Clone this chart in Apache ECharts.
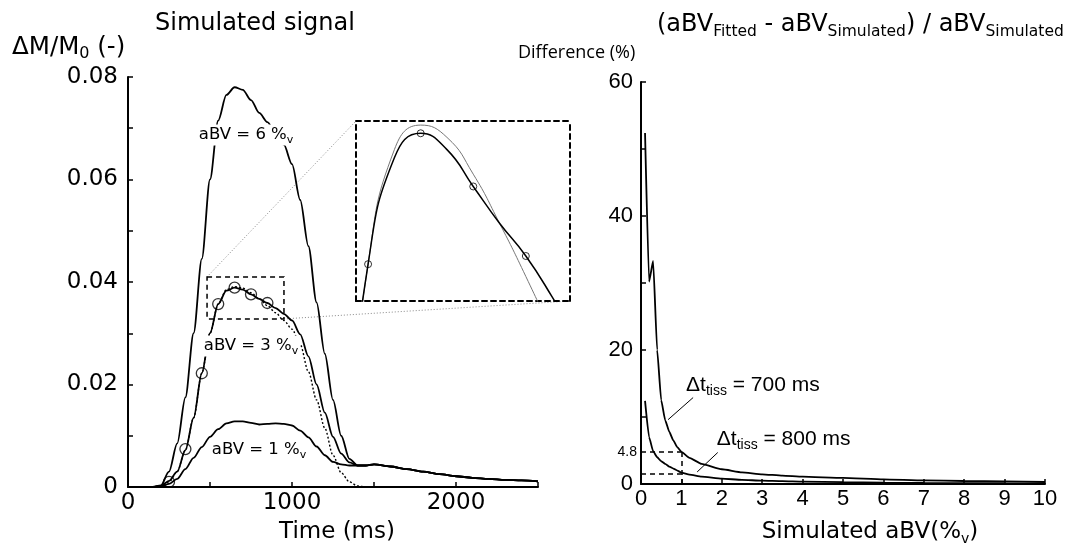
<!DOCTYPE html>
<html>
<head>
<meta charset="utf-8">
<script src="https://cdn.jsdelivr.net/npm/echarts@6/dist/echarts.min.js"></script>
<style>
  html, body { margin: 0; padding: 0; background: #fff; }
  #chart { width: 1075px; height: 551px; }
</style>
</head>
<body>
<div id="chart"></div>
<script>
// left panel: simulated signal (time in ms, dM/M0)
const timeMs = [0, 150, 200, 250, 300, 350, 400, 450, 500, 550, 600, 650, 700, 750, 800, 850, 900, 950, 1000,
  1050, 1100, 1150, 1200, 1250, 1300, 1350, 1400, 1450, 1500, 1600, 1700, 1800, 1900, 2000, 2100, 2200, 2300, 2400, 2500];
const signal6 = [0, 0, 0.0003, 0.003, 0.0085, 0.0175, 0.030, 0.0445, 0.060, 0.0715, 0.0765, 0.078, 0.0775, 0.0755, 0.073,
  0.0712, 0.069, 0.0668, 0.063, 0.056, 0.047, 0.036, 0.026, 0.017, 0.010, 0.0055, 0.0042, 0.0042, 0.0044, 0.004, 0.0035,
  0.003, 0.0025, 0.0021, 0.0018, 0.0016, 0.0014, 0.0013, 0.0011];
const signal3 = [0, 0, 0.0002, 0.0012, 0.003, 0.0072, 0.0135, 0.0222, 0.030, 0.0357, 0.0383, 0.0389, 0.0385, 0.0376, 0.0367,
  0.0359, 0.0349, 0.0338, 0.0325, 0.0298, 0.0255, 0.0200, 0.0145, 0.0098, 0.0065, 0.0048, 0.0042, 0.0042, 0.0044, 0.004,
  0.0035, 0.003, 0.0025, 0.0021, 0.0018, 0.0016, 0.0014, 0.0013, 0.0011];
const fit3 = [0, 0, 0.0002, 0.001, 0.003, 0.0072, 0.0135, 0.0222, 0.030, 0.0357, 0.0385, 0.0391, 0.0388, 0.0379, 0.0367,
  0.0354, 0.034, 0.0325, 0.0308, 0.0278, 0.0225, 0.017, 0.0115, 0.0062, 0.0028, 0.001, 0.0002, 0, 0];
const signal1 = [0, 0, 0.0001, 0.0006, 0.0016, 0.0035, 0.0057, 0.0078, 0.0098, 0.0113, 0.0124, 0.0128, 0.0128, 0.0125, 0.0122,
  0.0123, 0.0124, 0.0123, 0.012, 0.011, 0.0097, 0.0079, 0.0062, 0.0049, 0.0044, 0.0042, 0.0042, 0.0042, 0.0044, 0.004,
  0.0035, 0.003, 0.0025, 0.0021, 0.0018, 0.0016, 0.0014, 0.0013, 0.0011];
const sampleMs = [250, 350, 450, 550, 650, 750, 850];
const sampleSignal = [0.001, 0.0074, 0.0222, 0.0357, 0.0389, 0.0376, 0.0359];
const zoomBox = [482, 951, 0.0328, 0.041];      // t from, t to, signal from, signal to
const insetRange = [527, 934, 0.0348, 0.0392];  // what the inset shows

// right panel: difference (%) vs simulated aBV
const simAbv = [0.1, 0.2, 0.3, 0.4, 0.5, 0.6, 0.7, 0.8, 0.9, 1, 1.2, 1.5, 2, 2.5, 3, 3.5, 4, 5, 6, 7, 8, 9, 10];
const diff700 = [52.4, 30.2, 33.3, 20, 12.5, 9.5, 7.8, 6.5, 5.5, 4.8, 3.9, 3.0, 2.2, 1.75, 1.45, 1.25, 1.1, 0.9, 0.7, 0.55, 0.45, 0.38, 0.3];
const diff800 = [12.4, 7.0, 4.9, 4.0, 3.4, 3.0, 2.6, 2.3, 2.0, 1.7, 1.4, 1.1, 0.8, 0.62, 0.5, 0.42, 0.35, 0.27, 0.2, 0.16, 0.13, 0.11, 0.1];
const cut700 = [1, 4.8];
const cut800 = [1, 1.6];

const pairs = (xs, ys) => xs.map((x, i) => [x, ys[i] === undefined ? null : ys[i]]);

const WIDE = "DejaVu Sans";
const ARIAL = "Liberation Sans";
const sub = (family, size) => ({ fontFamily: family, fontSize: size, verticalAlign: "bottom", lineHeight: size, color: "#000" });

function curveLabel(text, coord, family, size, subSize, bg) {
  return {
    coord: coord,
    symbol: "circle",
    symbolSize: 1,
    itemStyle: { color: "rgba(0,0,0,0)" },
    label: {
      show: true,
      position: "inside",
      formatter: text,
      fontFamily: family,
      fontSize: size,
      lineHeight: Math.round(size * 1.3),
      color: "#000",
      backgroundColor: bg,
      padding: [0, 2],
      rich: { s: sub(family, subSize) }
    }
  };
}

const blackLine = { color: "#000", width: 1.8 };
const axisLine = { show: true, onZero: false, lineStyle: { color: "#000", width: 2 } };
const tick = { show: true, inside: true, length: 5, lineStyle: { color: "#000", width: 1.5 } };
const dashedEdge = { show: true, onZero: false, lineStyle: { color: "#000", width: 2, type: [5, 4] } };
const hiddenBits = { axisTick: { show: false }, axisLabel: { show: false }, splitLine: { show: false } };
const hollow = { color: "rgba(0,0,0,0)", borderColor: "#000" };

const chart = echarts.init(document.getElementById("chart"));
chart.setOption({
  animation: false,
  backgroundColor: "#fff",
  textStyle: { fontFamily: WIDE },
  title: [
    { text: "Simulated signal", left: 155, top: 12, padding: 0,
      textStyle: { fontFamily: WIDE, fontSize: 24, fontWeight: "normal", color: "#000" } },
    { text: "ΔM/M{s|0} (-)", left: 12, top: 33, padding: 0,
      textStyle: { fontFamily: WIDE, fontSize: 24.5, fontWeight: "normal", color: "#000", lineHeight: 29, rich: { s: sub(WIDE, 16) } } },
    { text: "(aBV{s|Fitted} - aBV{s|Simulated}) / aBV{s|Simulated}", left: 657, top: 10, padding: 0,
      textStyle: { fontFamily: WIDE, fontSize: 24, fontWeight: "normal", color: "#000", lineHeight: 30, rich: { s: sub(WIDE, 15.5) } } },
    { text: "Difference (%)", left: 518, top: 44, padding: 0,
      textStyle: { fontFamily: "Open Sans", fontSize: 18, fontWeight: "normal", color: "#000" } }
  ],
  grid: [
    { left: 128, top: 77, width: 410, height: 410 },
    { left: 356, top: 121, width: 214, height: 180 },
    { left: 641, top: 82, width: 404, height: 405 }
  ],
  xAxis: [
    { gridIndex: 0, type: "value", min: 0, max: 2500, interval: 500,
      axisLine: axisLine, axisTick: tick, splitLine: { show: false },
      axisLabel: { margin: 5, fontFamily: WIDE, fontSize: 23, color: "#000", formatter: v => (v % 1000 === 0 ? String(v) : "") },
      name: "Time (ms)", nameLocation: "middle", nameGap: 34,
      nameTextStyle: { fontFamily: WIDE, fontSize: 23, color: "#000", padding: [0, 0, 0, 8] } },
    Object.assign({ gridIndex: 1, type: "value", position: "bottom", min: insetRange[0], max: insetRange[1], axisLine: dashedEdge }, hiddenBits),
    Object.assign({ gridIndex: 1, type: "value", position: "top", min: insetRange[0], max: insetRange[1], axisLine: dashedEdge }, hiddenBits),
    { gridIndex: 2, type: "value", min: 0, max: 10, interval: 1,
      axisLine: axisLine, axisTick: tick, splitLine: { show: false },
      axisLabel: { margin: 4, fontFamily: ARIAL, fontSize: 22, color: "#000" },
      name: "Simulated aBV(%{s|v})", nameLocation: "middle", nameGap: 34,
      nameTextStyle: { fontFamily: WIDE, fontSize: 23, color: "#000", lineHeight: 28, padding: [0, 0, 0, 54], rich: { s: sub(WIDE, 14) } } }
  ],
  yAxis: [
    { gridIndex: 0, type: "value", min: 0, max: 0.08, interval: 0.01,
      axisLine: axisLine, axisTick: tick, splitLine: { show: false },
      axisLabel: { margin: 10, fontFamily: WIDE, fontSize: 23, color: "#000",
        formatter: v => { const k = Math.round(v * 100); return k % 2 === 0 ? (k === 0 ? "0" : (k / 100).toFixed(2)) : ""; } } },
    Object.assign({ gridIndex: 1, type: "value", position: "left", min: insetRange[2], max: insetRange[3], axisLine: dashedEdge }, hiddenBits),
    Object.assign({ gridIndex: 1, type: "value", position: "right", min: insetRange[2], max: insetRange[3], axisLine: dashedEdge }, hiddenBits),
    { gridIndex: 2, type: "value", min: 0, max: 60, interval: 10,
      axisLine: axisLine, axisTick: tick, splitLine: { show: false },
      axisLabel: { margin: 8, fontFamily: ARIAL, fontSize: 22, color: "#000", formatter: v => (v % 20 === 0 ? String(v) : "") } }
  ],
  series: [
    { type: "line", name: "aBV 6", xAxisIndex: 0, yAxisIndex: 0, data: pairs(timeMs, signal6),
      showSymbol: false, smooth: 0.3, smoothMonotone: "x", lineStyle: blackLine,
      markPoint: { data: [curveLabel("aBV = 6 %{s|v}", [720, 0.0687], WIDE, 16.5, 11, "#fff")] } },
    { type: "line", name: "aBV 3", xAxisIndex: 0, yAxisIndex: 0, data: pairs(timeMs, signal3),
      showSymbol: false, smooth: 0.3, smoothMonotone: "x", lineStyle: blackLine,
      markPoint: { data: [curveLabel("aBV = 3 %{s|v}", [750, 0.0275], WIDE, 16.5, 11, "#fff")] },
      markArea: { silent: true,
        itemStyle: { color: "rgba(0,0,0,0)", borderColor: "#000", borderWidth: 1.5, borderType: [5, 4] },
        data: [[{ coord: [zoomBox[0], zoomBox[3]] }, { coord: [zoomBox[1], zoomBox[2]] }]] } },
    { type: "line", name: "fit 3", xAxisIndex: 0, yAxisIndex: 0, data: pairs(timeMs, fit3),
      showSymbol: false, smooth: 0.3, smoothMonotone: "x", lineStyle: { color: "#000", width: 1.4, type: [2, 2] } },
    { type: "line", name: "aBV 1", xAxisIndex: 0, yAxisIndex: 0, data: pairs(timeMs, signal1),
      showSymbol: false, smooth: 0.3, smoothMonotone: "x", lineStyle: blackLine,
      markPoint: { data: [curveLabel("aBV = 1 %{s|v}", [799, 0.0072], WIDE, 16.5, 11, "#fff")] } },
    { type: "scatter", name: "samples", xAxisIndex: 0, yAxisIndex: 0, data: pairs(sampleMs, sampleSignal),
      symbol: "circle", symbolSize: 11, itemStyle: Object.assign({ borderWidth: 1.3 }, hollow), z: 4 },

    // inset
    { type: "line", name: "inset fit", xAxisIndex: 1, yAxisIndex: 1, data: pairs(timeMs, fit3),
      showSymbol: false, smooth: 0.5, clip: true, lineStyle: { color: "#777", width: 1 } },
    { type: "line", name: "inset 3", xAxisIndex: 1, yAxisIndex: 1, data: pairs(timeMs, signal3),
      showSymbol: false, smooth: 0.5, clip: true, lineStyle: { color: "#000", width: 1.5 } },
    { type: "scatter", name: "inset samples", xAxisIndex: 1, yAxisIndex: 1, data: pairs(sampleMs, sampleSignal),
      clip: true, symbol: "circle", symbolSize: 7, itemStyle: Object.assign({ borderWidth: 1 }, hollow), z: 4 },

    // right panel
    { type: "line", name: "dt 700", xAxisIndex: 3, yAxisIndex: 3, data: pairs(simAbv, diff700),
      showSymbol: false, smooth: 0.15, smoothMonotone: "x", lineStyle: blackLine,
      markLine: {
        silent: true, symbol: ["none", "none"],
        lineStyle: { color: "#000", width: 1.5, type: [5, 4] },
        label: { show: false },
        data: [
          [{ coord: [0, cut700[1]], label: { show: true, position: "start", formatter: "4.8", fontFamily: ARIAL, fontSize: 14, color: "#000", distance: 4 } },
           { coord: [cut700[0], cut700[1]] }],
          [{ coord: [cut700[0], 0] }, { coord: [cut700[0], cut700[1]] }],
          [{ coord: [0, cut800[1]] }, { coord: [cut800[0], cut800[1]] }],
          [{ coord: [1.29, 12.9], lineStyle: { type: "solid", width: 1 } }, { coord: [0.67, 9.6] }],
          [{ coord: [1.9, 4.7], lineStyle: { type: "solid", width: 1 } }, { coord: [1.39, 1.8] }]
        ]
      },
      markPoint: {
        data: [
          curveLabel("Δt{s|tiss} = 700 ms", [2.77, 14.8], ARIAL, 21, 14, "transparent"),
          curveLabel("Δt{s|tiss} = 800 ms", [3.53, 6.7], ARIAL, 21, 14, "transparent")
        ]
      } },
    { type: "line", name: "dt 800", xAxisIndex: 3, yAxisIndex: 3, data: pairs(simAbv, diff800),
      showSymbol: false, smooth: 0.15, smoothMonotone: "x", lineStyle: blackLine }
  ]
});

// dotted connectors from the small box to the inset
const a = chart.convertToPixel({ xAxisIndex: 0, yAxisIndex: 0 }, [zoomBox[0], zoomBox[3]]);
const b = chart.convertToPixel({ xAxisIndex: 1, yAxisIndex: 1 }, [insetRange[0], insetRange[3]]);
const c = chart.convertToPixel({ xAxisIndex: 0, yAxisIndex: 0 }, [zoomBox[1], zoomBox[2]]);
const d = chart.convertToPixel({ xAxisIndex: 1, yAxisIndex: 1 }, [insetRange[1], insetRange[2]]);
const dotted = { stroke: "#888", lineWidth: 1, lineDash: [1, 2] };
chart.setOption({
  graphic: [
    { type: "line", shape: { x1: a[0], y1: a[1], x2: b[0], y2: b[1] }, style: dotted, silent: true },
    { type: "line", shape: { x1: c[0], y1: c[1], x2: d[0], y2: d[1] }, style: dotted, silent: true }
  ]
});
</script>
</body>
</html>
